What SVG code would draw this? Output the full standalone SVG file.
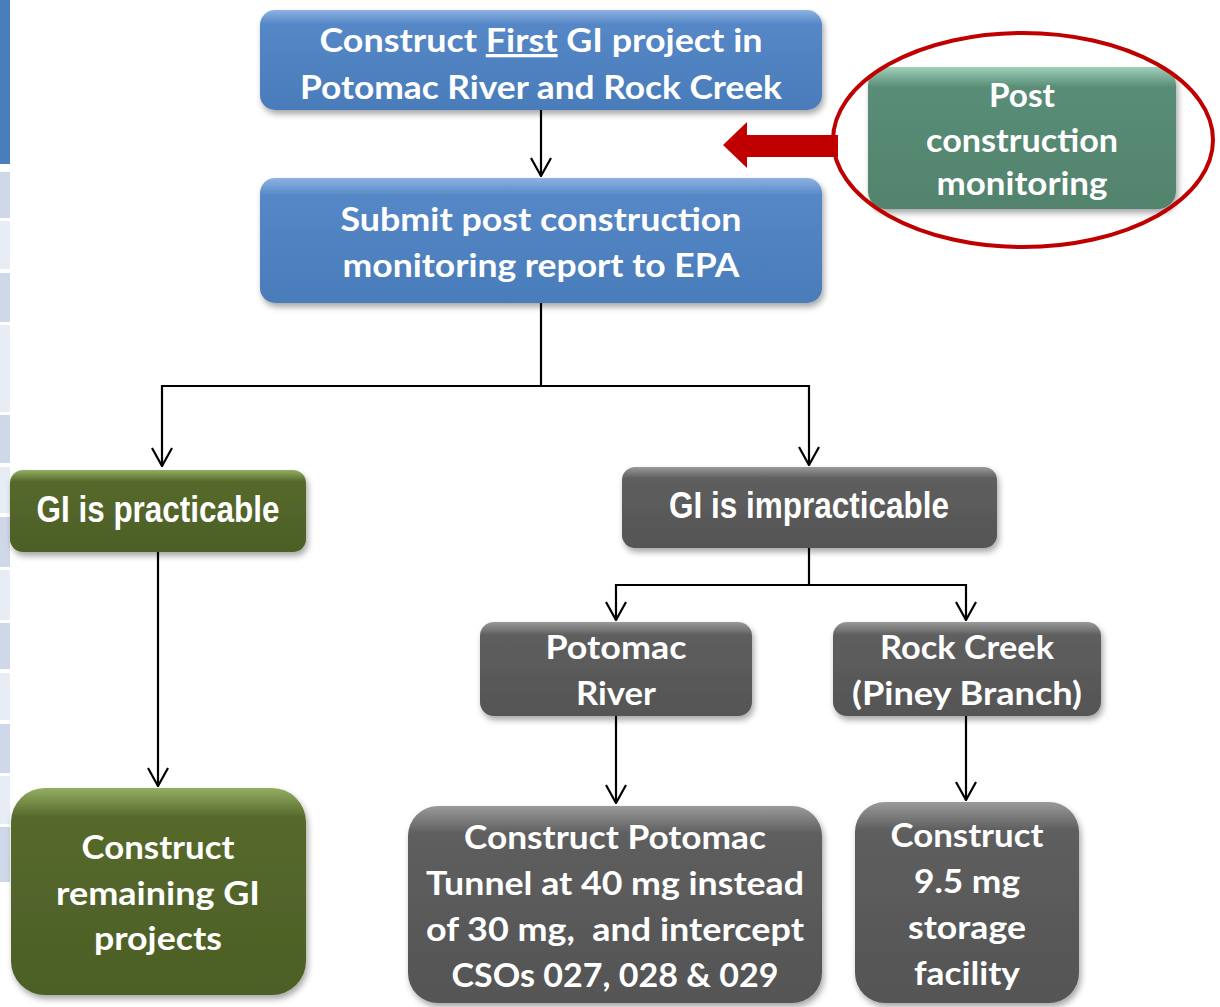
<svg xmlns="http://www.w3.org/2000/svg" width="1220" height="1007" viewBox="0 0 1220 1007">
<style>
.t{font-family:Lato,"Open Sans","Liberation Sans",sans-serif;font-weight:700;fill:#fff;text-anchor:middle;font-size:33px}
.n{font-family:"Liberation Sans",Arial,sans-serif;font-weight:700;fill:#fff;text-anchor:middle;font-size:37px}
.c{fill:none;stroke:#000;stroke-width:2.2}
.dk{fill:#cfd8e8}
.lt{fill:#e8edf5}
</style>
<defs>
<filter id="sh" x="-10%" y="-10%" width="125%" height="135%">
<feDropShadow dx="2" dy="4" stdDeviation="3" flood-color="#000" flood-opacity="0.35"/>
</filter>
<linearGradient id="gB" x1="0" y1="0" x2="0" y2="1">
<stop offset="0" stop-color="#8cb2e2"/><stop offset="0.14" stop-color="#5587c6"/><stop offset="1" stop-color="#4a7cba"/>
</linearGradient>
<linearGradient id="gT" x1="0" y1="0" x2="0" y2="1">
<stop offset="0" stop-color="#9fd0b8"/><stop offset="0.14" stop-color="#5a8d77"/><stop offset="1" stop-color="#52836c"/>
</linearGradient>
<linearGradient id="gO" x1="0" y1="0" x2="0" y2="1">
<stop offset="0" stop-color="#94ae62"/><stop offset="0.14" stop-color="#56692c"/><stop offset="1" stop-color="#4c5f26"/>
</linearGradient>
<linearGradient id="gG" x1="0" y1="0" x2="0" y2="1">
<stop offset="0" stop-color="#9a9a9a"/><stop offset="0.14" stop-color="#5e5e5e"/><stop offset="1" stop-color="#555555"/>
</linearGradient>
<marker id="ah" viewBox="0 0 20 24" markerWidth="20" markerHeight="24" refX="19" refY="12" orient="auto" markerUnits="userSpaceOnUse">
<path d="M1,2 L19,12 L1,22" fill="none" stroke="#000" stroke-width="2.2"/>
</marker>
</defs>

<g id="side-strip">
<rect x="0" y="0" width="10" height="164" fill="#4a7ebb"/>
<rect class="dk" x="0" y="172" width="10" height="46"/>
<rect class="lt" x="0" y="221" width="10" height="48"/>
<rect class="dk" x="0" y="273" width="10" height="49"/>
<rect class="lt" x="0" y="325" width="10" height="87"/>
<rect class="dk" x="0" y="415" width="10" height="48"/>
<rect class="lt" x="0" y="467" width="10" height="46"/>
<rect class="dk" x="0" y="517" width="10" height="50"/>
<rect class="lt" x="0" y="570" width="10" height="50"/>
<rect class="dk" x="0" y="623" width="10" height="46"/>
<rect class="lt" x="0" y="673" width="10" height="47"/>
<rect class="dk" x="0" y="724" width="10" height="49"/>
<rect class="lt" x="0" y="776" width="10" height="48"/>
<rect class="dk" x="0" y="827" width="10" height="55"/>
</g>

<g id="connectors">
<path class="c" d="M541,110 L541,176" marker-end="url(#ah)"/>
<path class="c" d="M541,303 L541,386 L162,386 L162,466" marker-end="url(#ah)"/>
<path class="c" d="M541,386 L809,386 L809,465" marker-end="url(#ah)"/>
<path class="c" d="M809,548 L809,585 L616,585 L616,620" marker-end="url(#ah)"/>
<path class="c" d="M809,585 L966,585 L966,620" marker-end="url(#ah)"/>
<path class="c" d="M158,552 L158,786" marker-end="url(#ah)"/>
<path class="c" d="M616,716 L616,803" marker-end="url(#ah)"/>
<path class="c" d="M966,716 L966,800" marker-end="url(#ah)"/>
</g>

<g id="n1">
<rect x="260" y="10" width="562" height="100" rx="15" fill="url(#gB)" filter="url(#sh)"/>
<text class="t" x="541" y="52" textLength="443" lengthAdjust="spacingAndGlyphs">Construct <tspan text-decoration="underline">First</tspan> GI project in</text>
<text class="t" x="541" y="99" textLength="482" lengthAdjust="spacingAndGlyphs">Potomac River and Rock Creek</text>
</g>

<g id="n2">
<rect x="260" y="178" width="562" height="125" rx="15" fill="url(#gB)" filter="url(#sh)"/>
<text class="t" x="541" y="231" textLength="401" lengthAdjust="spacingAndGlyphs">Submit post construction</text>
<text class="t" x="541" y="277" textLength="397" lengthAdjust="spacingAndGlyphs">monitoring report to EPA</text>
</g>

<g id="n3">
<rect x="868" y="67" width="308" height="142" rx="18" fill="url(#gT)" filter="url(#sh)"/>
<text class="t" x="1022" y="107" textLength="66" lengthAdjust="spacingAndGlyphs">Post</text>
<text class="t" x="1022" y="152" textLength="192" lengthAdjust="spacingAndGlyphs">construction</text>
<text class="t" x="1022" y="195" textLength="171" lengthAdjust="spacingAndGlyphs">monitoring</text>
</g>

<g id="highlight">
<ellipse cx="1023" cy="140" rx="190" ry="107" fill="none" stroke="#c00000" stroke-width="4"/>
<polygon points="838,135 747,135 747,122 723,145 747,168 747,157 838,157" fill="#c00000"/>
</g>

<g id="n4">
<rect x="10" y="470" width="296" height="82" rx="13" fill="url(#gO)" filter="url(#sh)"/>
<text class="n" x="158" y="522" textLength="243" lengthAdjust="spacingAndGlyphs">GI is practicable</text>
</g>

<g id="n5">
<rect x="622" y="467" width="375" height="81" rx="13" fill="url(#gG)" filter="url(#sh)"/>
<text class="n" x="809" y="518" textLength="280" lengthAdjust="spacingAndGlyphs">GI is impracticable</text>
</g>

<g id="n6">
<rect x="480" y="622" width="272" height="94" rx="14" fill="url(#gG)" filter="url(#sh)"/>
<text class="t" x="616" y="659" textLength="141" lengthAdjust="spacingAndGlyphs">Potomac</text>
<text class="t" x="616" y="705" textLength="80" lengthAdjust="spacingAndGlyphs">River</text>
</g>

<g id="n7">
<rect x="833" y="622" width="268" height="94" rx="14" fill="url(#gG)" filter="url(#sh)"/>
<text class="t" x="967" y="659" textLength="174" lengthAdjust="spacingAndGlyphs">Rock Creek</text>
<text class="t" x="967" y="705" textLength="230" lengthAdjust="spacingAndGlyphs">(Piney Branch)</text>
</g>

<g id="n8">
<rect x="11" y="788" width="295" height="207" rx="34" fill="url(#gO)" filter="url(#sh)"/>
<text class="t" x="158" y="859" textLength="153" lengthAdjust="spacingAndGlyphs">Construct</text>
<text class="t" x="158" y="905" textLength="204" lengthAdjust="spacingAndGlyphs">remaining GI</text>
<text class="t" x="158" y="950" textLength="128" lengthAdjust="spacingAndGlyphs">projects</text>
</g>

<g id="n9">
<rect x="408" y="806" width="414" height="197" rx="30" fill="url(#gG)" filter="url(#sh)"/>
<text class="t" x="615" y="849" textLength="302" lengthAdjust="spacingAndGlyphs">Construct Potomac</text>
<text class="t" x="615" y="895" textLength="378" lengthAdjust="spacingAndGlyphs">Tunnel at 40 mg instead</text>
<text class="t" x="615" y="941" textLength="378" lengthAdjust="spacingAndGlyphs" xml:space="preserve">of 30 mg,  and intercept</text>
<text class="t" x="615" y="987" textLength="327" lengthAdjust="spacingAndGlyphs">CSOs 027, 028 &amp; 029</text>
</g>

<g id="n10">
<rect x="855" y="802" width="224" height="201" rx="30" fill="url(#gG)" filter="url(#sh)"/>
<text class="t" x="967" y="847" textLength="153" lengthAdjust="spacingAndGlyphs">Construct</text>
<text class="t" x="967" y="893" textLength="106" lengthAdjust="spacingAndGlyphs">9.5 mg</text>
<text class="t" x="967" y="939" textLength="118" lengthAdjust="spacingAndGlyphs">storage</text>
<text class="t" x="967" y="985" textLength="106" lengthAdjust="spacingAndGlyphs">facility</text>
</g>
</svg>
